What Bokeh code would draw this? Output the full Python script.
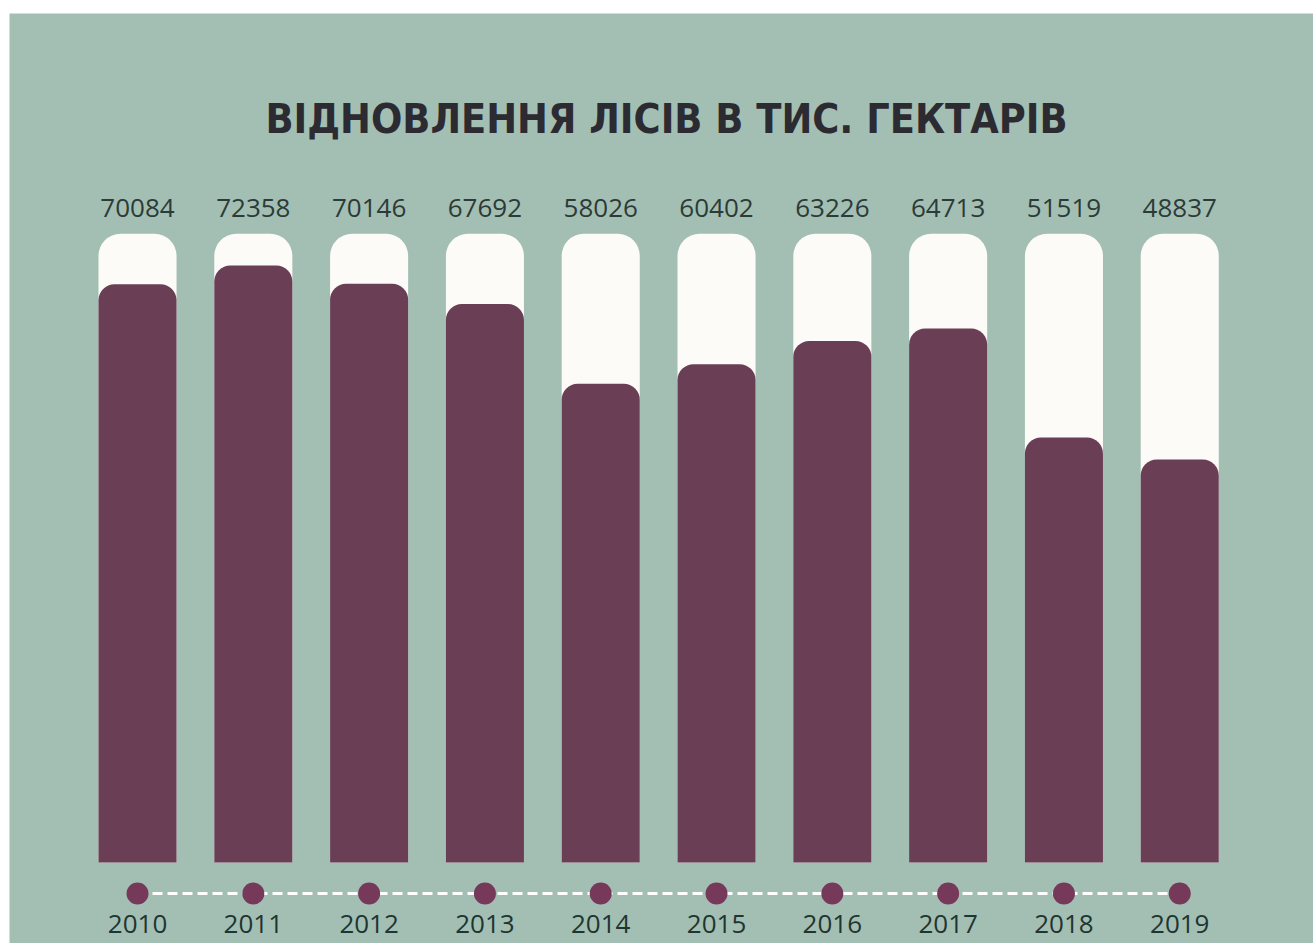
from bokeh.plotting import figure
from bokeh.models import ColumnDataSource, Range1d, Label
from bokeh.embed import file_html
from bokeh.resources import INLINE
from bokeh.core.properties import value

# ---- data ----
years = ["2010", "2011", "2012", "2013", "2014", "2015", "2016", "2017", "2018", "2019"]
restored = [70084, 72358, 70146, 67692, 58026, 60402, 63226, 64713, 51519, 48837]
track_max = 76200          # height of the pale background track of every bar
title_text = "ВІДНОВЛЕННЯ ЛІСІВ В ТИС. ГЕКТАРІВ"

idx = list(range(len(years)))
src = ColumnDataSource(dict(
    x=idx, year=years, val=restored, lab=[str(v) for v in restored],
    track=[track_max] * len(years),
))

BG = "#a3bfb3"
MAROON = "#6a3f56"
TRACK = "#fdfbf7"

W, H = 1313, 943
p = figure(width=W, height=H, output_backend="svg", toolbar_location=None,
           x_range=Range1d(-1.1054, 10.155), y_range=Range1d(-9818, 102909),
           min_border_left=9, min_border_top=13, min_border_right=0, min_border_bottom=0)
p.border_fill_color = "white"
p.background_fill_color = BG
p.outline_line_color = None
p.axis.visible = False
p.grid.visible = False

# track and bars
p.vbar(x="x", top="track", bottom=0, width=0.674, source=src, fill_color=TRACK,
       line_color=None, border_radius=(22, 22, 0, 0))
p.vbar(x="x", top="val", bottom=0, width=0.674, source=src, fill_color=MAROON,
       line_color=None, border_radius=(16, 16, 0, 0))

# value labels
p.text(x="x", y="track", text="lab", source=src, text_align="center",
       text_baseline="middle", y_offset=-26, text_font=value("Open Sans"),
       text_font_size="26px", text_color="#2c3b38")

# timeline
timeline_y = -3750
p.line(x=[idx[0], idx[-1]], y=[timeline_y, timeline_y], line_color="white",
       line_width=3, line_dash="10 5")
p.scatter(x="x", y=timeline_y, source=src, size=22, fill_color="#76395a",
          line_color=None)
p.text(x="x", y=0, text="year", source=src, text_align="center",
       text_baseline="middle", y_offset=61, text_font=value("Open Sans"),
       text_font_size="26px", text_color="#1f3531")

# title
p.add_layout(Label(x=657, y=825, x_units="screen", y_units="screen", text=title_text,
                   text_align="center", text_baseline="middle",
                   text_font="DejaVu Sans Condensed", text_font_style="bold",
                   text_font_size="41px", text_color="#2d2b32"))

open("out.html", "w").write(file_html(p, INLINE))
